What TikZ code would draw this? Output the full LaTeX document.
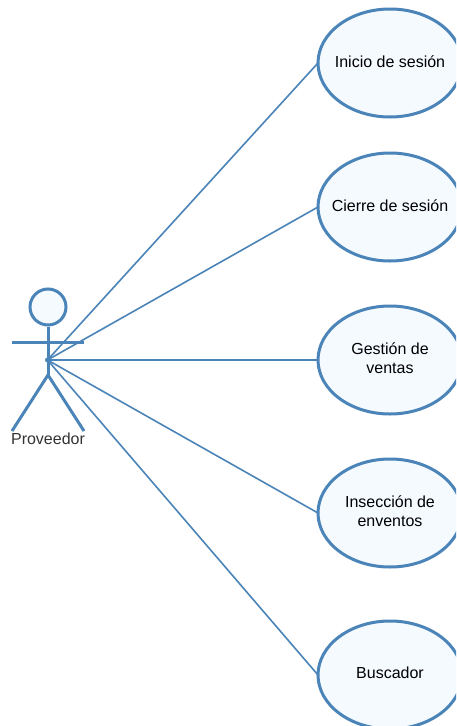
\documentclass[tikz,border=0pt]{standalone}
\usepackage{fontspec}
\setmainfont{Liberation Sans}
\usetikzlibrary{shapes.geometric}
\definecolor{umlblue}{HTML}{4A84B8}
\definecolor{umlfill}{HTML}{F5FAFF}
\tikzset{
  usecase/.style={ellipse,draw=umlblue,fill=umlfill,line width=3pt,minimum width=144pt,minimum height=108pt,inner sep=0pt,outer sep=0pt},
  casetext/.style={yshift=1.8pt,inner sep=0pt,align=center,text=black,font=\fontsize{16}{19.5}\selectfont},
  actorline/.style={draw=umlblue,line width=3pt},
  link/.style={draw=umlblue,line width=1.6pt},
  actorlabel/.style={text=black!80,inner sep=0pt,font=\fontsize{16}{19}\selectfont}
}
\begin{document}
\begin{tikzpicture}[x=1pt,y=-1pt]
\useasboundingbox (0,0) rectangle (456,726);
\clip (0,0) rectangle (456,726);
\fill[white] (0,0) rectangle (456,726);
\node[circle,draw=umlblue,fill=umlfill,line width=3pt,minimum size=36pt,inner sep=0pt] (head) at (48,307) {};
\coordinate (hub) at (47.5,360);
\coordinate (hip) at (48,375);
\coordinate (armL) at (12,342);
\coordinate (armR) at (84,342);
\coordinate (legL) at (12,431);
\coordinate (legR) at (84,431);
\draw[actorline] (head.south) -- (hip);
\draw[actorline] (armL) -- (armR);
\draw[actorline] (legL) -- (hip) -- (legR);
\node[actorlabel] (actorname) at (48,439) {Proveedor};
\node[usecase,label={[casetext]center:Inicio de sesión}] (u1) at (390,63) {};
\node[usecase,label={[casetext]center:Cierre de sesión}] (u2) at (390,207) {};
\node[usecase,label={[casetext]center:Gestión de\\ventas}] (u3) at (390,360) {};
\node[usecase,label={[casetext]center:Insección de\\enventos}] (u4) at (390,513) {};
\node[usecase,label={[casetext]center:Buscador}] (u5) at (390,675) {};
\foreach \u in {u1,u2,u3,u4,u5} \draw[link] (hub) -- (\u.west);
\fill[umlblue] (hub) circle (2.5pt);
\end{tikzpicture}
\end{document}
